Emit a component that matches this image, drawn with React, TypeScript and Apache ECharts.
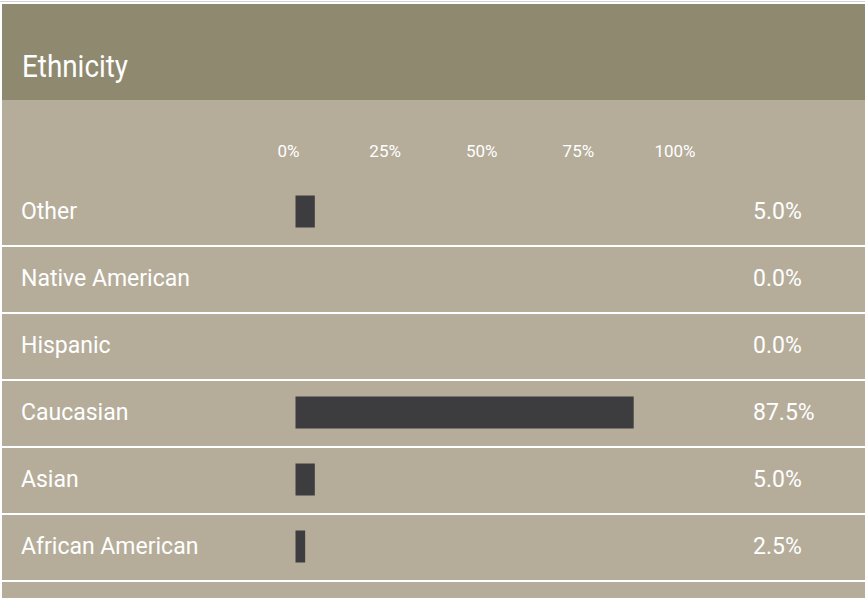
import React, { useEffect, useRef } from 'react';
import * as echarts from 'echarts';

const titleText = 'Ethnicity';
// listed from top row to bottom row
const categories = ['Other', 'Native American', 'Hispanic', 'Caucasian', 'Asian', 'African American'];
const values = [5.0, 0.0, 0.0, 87.5, 5.0, 2.5];
const axisMin = 0;
const axisMax = 100;
const axisStep = 25;

const HEADER = '#8f8970';
const BODY = '#b5ad9a';
const BAR = '#3d3d40';
const FONT = 'Roboto, "Noto Sans", sans-serif';

export default function App() {
  const ref = useRef<HTMLDivElement>(null);
  useEffect(() => {
    if (!ref.current) return;
    const chart = echarts.init(ref.current, undefined, { renderer: 'svg' });
    chart.setOption({
      animation: false,
      backgroundColor: '#ffffff',
      graphic: [
        { type: 'rect', z: -10, shape: { x: 0, y: 1, width: 865, height: 1 }, style: { fill: '#d2d2d2' } },
        { type: 'rect', z: -10, shape: { x: 2, y: 4, width: 863, height: 96 }, style: { fill: HEADER } },
        { type: 'rect', z: -10, shape: { x: 2, y: 100, width: 863, height: 498 }, style: { fill: BODY } },
        {
          type: 'text',
          z: 10,
          x: 22,
          y: 66,
          scaleX: 0.87,
          style: {
            text: titleText,
            x: 0,
            y: 0,
            fill: '#ffffff',
            font: `32px ${FONT}`,
            verticalAlign: 'middle',
            align: 'left',
          },
        },
      ],
      grid: [
        { left: 295.5, right: 183, top: 178, bottom: 18, containLabel: false },
        { left: 2, right: 0, top: 179, bottom: 17, containLabel: false },
      ],
      xAxis: [
        {
          type: 'value',
          gridIndex: 0,
          position: 'top',
          min: axisMin,
          max: axisMax,
          interval: axisStep,
          axisLine: { show: false },
          axisTick: { show: false },
          splitLine: { show: false },
          axisLabel: {
            formatter: '{value}%',
            color: '#ffffff',
            fontFamily: FONT,
            fontSize: 17,
            margin: 19,
            padding: [0, 14, 0, 0],
          },
        },
        {
          type: 'value',
          gridIndex: 1,
          show: false,
          min: axisMin,
          max: axisMax,
        },
      ],
      yAxis: [
        {
          type: 'category',
          gridIndex: 0,
          inverse: true,
          data: categories,
          axisLine: { show: false },
          axisTick: { show: false },
          splitLine: { show: false },
          axisLabel: {
            align: 'left',
            margin: 274.5,
            color: '#ffffff',
            fontFamily: FONT,
            fontSize: 23,
          },
        },
        {
          type: 'category',
          gridIndex: 0,
          inverse: true,
          position: 'right',
          data: values.map((v) => `${v.toFixed(1)}%`),
          axisLine: { show: false },
          axisTick: { show: false },
          splitLine: { show: false },
          axisLabel: {
            align: 'left',
            margin: 71,
            color: '#ffffff',
            fontFamily: FONT,
            fontSize: 23,
          },
        },
        {
          type: 'category',
          gridIndex: 1,
          inverse: true,
          data: categories,
          axisLine: { show: false },
          axisTick: { show: false },
          axisLabel: { show: false },
          splitLine: {
            show: true,
            showMinLine: false,
            showMaxLine: true,
            lineStyle: { color: '#ffffff', width: 2 },
          },
        },
      ],
      series: [
        {
          type: 'bar',
          xAxisIndex: 0,
          yAxisIndex: 0,
          data: values,
          barWidth: 32,
          itemStyle: { color: BAR },
          silent: true,
        },
      ],
    });
    return () => chart.dispose();
  }, []);
  return (
    <div
      ref={ref}
      style={{ position: 'absolute', left: 0, top: 0, width: 865, height: 598 }}
    />
  );
}
